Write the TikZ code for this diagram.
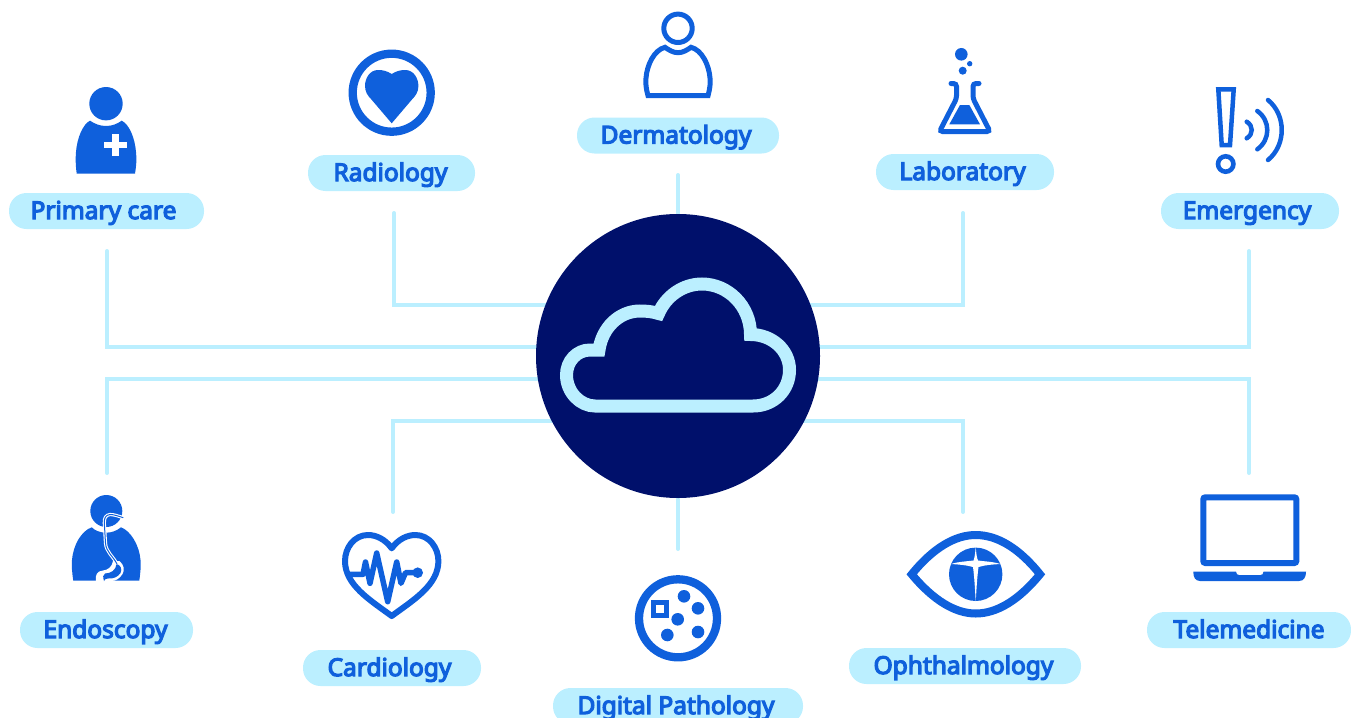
\documentclass[tikz,border=0pt]{standalone}
\usepackage{fontspec}
\setmainfont{Noto Sans}[AutoFakeBold=5]
\usetikzlibrary{calc,backgrounds}
\definecolor{pale}{HTML}{BBEFFF}
\definecolor{iconblue}{HTML}{0F60DC}
\definecolor{navy}{HTML}{00106B}
\tikzset{
  x=1pt,y=-1pt,
  pill/.style={fill=pale,text=iconblue,rounded corners=17.5pt,inner sep=0pt,minimum height=36pt,
    font=\fontsize{24.5}{26}\selectfont\bfseries,text height=19pt,text depth=3pt,align=center},
  link/.style={draw=pale,line width=4pt,line cap=round,line join=miter},
  solid icon/.style={fill=iconblue,draw=none},
  line icon/.style={draw=iconblue,line width=5pt,line join=miter},
  hole/.style={fill=white,draw=none},
}
\begin{document}
\begin{tikzpicture}
\path[use as bounding box,clip] (0,0) rectangle (1351,717);
% hub
\node[circle,fill=navy,minimum size=284pt,inner sep=0pt] (hub) at (678,356) {};
\draw[draw=pale,line width=13pt,line join=miter,miter limit=10]
  (595,406) -- (753,406) .. controls (774,406) and (789.5,390) .. (789.5,370)
  .. controls (789.5,350) and (772,334.5) .. (750.5,334.5)
  .. controls (750.5,306) and (728,284) .. (702,284)
  .. controls (683,284) and (666,296) .. (658.5,313.5)
  .. controls (652,311.5) and (646,311) .. (640,311)
  .. controls (619,311) and (602,328) .. (599,350)
  -- (590,350) .. controls (577,350) and (566.5,361) .. (566.5,375)
  .. controls (566.5,392) and (580,406) .. (595,406) -- cycle;
% labels
\node[pill,minimum width=195pt] (prim) at (106.5,211) {Primary care\kern 6pt};
\node[pill,minimum width=167pt] (radi) at (391.5,173) {Radiology\kern 2pt};
\node[pill,minimum width=202pt] (derm) at (678,135.5) {Dermatology\kern 4pt};
\node[pill,minimum width=178pt] (labo) at (965,172) {Laboratory\kern 5pt};
\node[pill,minimum width=178pt] (emer) at (1250,211) {Emergency\kern 6pt};
\node[pill,minimum width=173pt] (endo) at (106.5,630) {Endoscopy\kern 2pt};
\node[pill,minimum width=178pt] (card) at (392,668) {Cardiology\kern 5pt};
\node[pill,minimum width=250pt] (path) at (678,706) {Digital Pathology\kern 4pt};
\node[pill,minimum width=232pt] (opht) at (965,666) {Ophthalmology\kern 3pt};
\node[pill,minimum width=204pt] (tele) at (1249,630) {Telemedicine};
% connector free ends
\coordinate (cprim) at (107,251);
\coordinate (cradi) at (394,213);
\coordinate (cderm) at (678,175);
\coordinate (clabo) at (963,213);
\coordinate (cemer) at (1249,251);
\coordinate (cendo) at (107,473);
\coordinate (ccard) at (393,512);
\coordinate (cpath) at (678,549);
\coordinate (copht) at (963,512);
\coordinate (ctele) at (1249,473);
\begin{scope}[on background layer]
\draw[link] (cprim) |- ($(hub.center)+(0,-9)$);
\draw[link] (cradi) |- ($(hub.center)+(0,-51.5)$);
\draw[link] (cderm) -- (hub.north);
\draw[link] (clabo) |- ($(hub.center)+(0,-51.5)$);
\draw[link] (cemer) |- ($(hub.center)+(0,-9)$);
\draw[link] (cendo) |- ($(hub.center)+(0,22.5)$);
\draw[link] (ccard) |- ($(hub.center)+(0,65)$);
\draw[link] (cpath) -- (hub.south);
\draw[link] (copht) |- ($(hub.center)+(0,65)$);
\draw[link] (ctele) |- ($(hub.center)+(0,22.5)$);
\end{scope}
% primary care icon
\fill[solid icon] (106,103.7) circle[radius=16.7];
\fill[solid icon] (76.7,173.5) .. controls (75.5,165) and (75.5,158) .. (76,152)
  .. controls (77,138) and (83,124) .. (90,120.7)
  .. controls (95,124) and (100,126) .. (106,126)
  .. controls (112,126) and (117,124) .. (121.7,120.7)
  .. controls (129,124) and (135,138) .. (136,152)
  .. controls (136.7,158) and (136.5,165) .. (135,173.5) -- cycle;
\fill[hole] (112,133.7) rectangle (118.7,156.3);
\fill[hole] (104,141.7) rectangle (126.7,148.3);
% radiology icon
\draw[iconblue,line width=8.3pt] (391.7,92.7) circle[radius=39];
\fill[solid icon] (391.7,74) .. controls (387,71) and (383,70) .. (378,70)
  .. controls (370,70) and (365,78) .. (365,86) .. controls (365,92) and (368,96) .. (371,99)
  -- (391.7,123.3) -- (412.4,99)
  .. controls (415.4,96) and (418.4,92) .. (418.4,86) .. controls (418.4,78) and (413.4,70) .. (405.4,70)
  .. controls (400.4,70) and (396.4,71) .. (391.7,74) -- cycle;
% dermatology icon
\draw[iconblue,line width=5pt] (678,28.3) circle[radius=14.2];
\draw[line icon] (648,95.7) -- (708,95.7) .. controls (710,88) and (710.5,84) .. (710,78)
  .. controls (709,65) and (702,50) .. (691,47.3)
  .. controls (687,50) and (683,52.7) .. (678,52.7)
  .. controls (673,52.7) and (669,50) .. (665,47.3)
  .. controls (654,50) and (647,65) .. (646,78)
  .. controls (645.5,84) and (646,88) .. (648,95.7) -- cycle;
% laboratory icon
\fill[solid icon] (961.3,54.3) circle[radius=6.3];
\fill[solid icon] (969.7,63.7) circle[radius=2.7];
\fill[solid icon] (962.7,70.7) circle[radius=4];
\draw[line icon,line cap=round,rounded corners=3pt] (951,83.5) -- (956.5,83.5) -- (956.5,98.5)
  -- (939.5,131.5) -- (990,131.5) -- (973,98.5) -- (973,83.5) -- (979,83.5);
\fill[solid icon] (960,105) -- (969.3,105) -- (980,124.3) -- (949.3,124.3) -- cycle;
% emergency icon
\draw[line icon,line width=4.5pt] (1218.3,89.3) -- (1233.7,89.3) -- (1230,145) -- (1221.7,145) -- cycle;
\draw[iconblue,line width=4.6pt] (1225.7,164) circle[radius=7.7];
\draw[line icon,line width=4.5pt,line cap=round] (1246.7,121.7) .. controls (1253.4,125.8) and (1253.4,134.2) .. (1246.7,138.3);
\draw[line icon,line width=4.5pt,line cap=round] (1257.3,111) .. controls (1270.6,120.5) and (1270.6,139.8) .. (1257.3,149.3);
\draw[line icon,line width=4.5pt,line cap=round] (1268,100) .. controls (1286.3,115) and (1286.3,145) .. (1268,160);
% endoscopy icon
\fill[solid icon] (106.3,511) circle[radius=16];
\fill[solid icon] (73.3,580.7) .. controls (72,572) and (71.5,566) .. (72,560)
  .. controls (73,546) and (81,531) .. (91.7,527.3)
  .. controls (95,530.5) and (100,532.7) .. (106.3,532.7)
  .. controls (112,532.7) and (117,530.5) .. (121,527.3)
  .. controls (131,531) and (139.5,546) .. (140.5,560)
  .. controls (141,566) and (140.5,572) .. (139.3,580.7) -- cycle;
\fill[hole] (96,581) .. controls (95,575) and (97,571) .. (103,570.5)
  .. controls (108,570) and (112,567) .. (113,561)
  -- (119.5,561) .. controls (124,565) and (125,570) .. (122.5,574)
  .. controls (120,578) and (116,581) .. (112,581) -- cycle;
\fill[solid icon] (104,581) .. controls (103,577) and (102.5,575) .. (105,573.5)
  .. controls (111,573.5) and (116,570) .. (116.5,564)
  .. controls (120.5,565) and (122.5,569) .. (120.5,573)
  .. controls (118,577) and (113,579) .. (108,578.5)
  .. controls (106,578.5) and (105,579) .. (104,581) -- cycle;
\draw[white,line width=3.2pt,line join=round] (123.3,517.7) .. controls (118,516) and (114,514.5) .. (110,514.5)
  .. controls (105.5,515) and (104.2,518) .. (104.3,523) -- (105.5,543)
  .. controls (106,552) and (113,556) .. (117,564);
\draw[iconblue,line width=1pt,line join=round] (123.3,517.7) .. controls (118,516) and (114,514.5) .. (110,514.5)
  .. controls (105.5,515) and (104.2,518) .. (104.3,523) -- (105.5,543)
  .. controls (106,552) and (113,556) .. (117,564);
% cardiology icon
\draw[line icon,line width=6pt,line join=round] (391.7,548.3) .. controls (385,539) and (376,535) .. (368,535)
  .. controls (354,535) and (345,548) .. (345,561)
  .. controls (345,585) and (370,600) .. (391.7,616)
  .. controls (413.4,600) and (438.4,585) .. (438.4,561)
  .. controls (438.4,548) and (429.4,535) .. (415.4,535)
  .. controls (407.4,535) and (398.4,539) .. (391.7,548.3) -- cycle;
\draw[line icon,line width=5.5pt,line join=round,line cap=round] (350,574.3) -- (363,574.3) -- (365.5,562)
  -- (370,583.3) -- (376.7,553) -- (387.7,601.7) -- (396.7,562) -- (401,583.3) -- (405.5,572.7) -- (418.3,572.7);
\fill[solid icon] (417.7,572.7) circle[radius=5.3];
% pathology icon
\draw[iconblue,line width=8.3pt] (678,618.3) circle[radius=39];
\fill[solid icon] (684,596.3) circle[radius=6.3];
\fill[solid icon] (698,608.3) circle[radius=6.3];
\fill[solid icon] (677.7,619.3) circle[radius=6.3];
\fill[solid icon] (698,632) circle[radius=6.3];
\fill[solid icon] (667.3,635) circle[radius=6.3];
\draw[line icon] (653.5,602.5) rectangle (666.5,615.5);
% ophthalmology icon
\draw[line icon,line width=8pt] (911.7,574.3) .. controls (933,548) and (955,535) .. (975.7,535)
  .. controls (997,535) and (1019,548) .. (1040,574.3)
  .. controls (1019,600) and (997,613.5) .. (975.7,613.5)
  .. controls (955,613.5) and (933,600) .. (911.7,574.3) -- cycle;
\fill[solid icon] (975.7,574.3) circle[radius=26.7];
\fill[hole] (975.7,547) .. controls (976.2,553) and (976.8,558) .. (978,560.5)
  .. controls (985,561.5) and (992,561.5) .. (1000.5,564)
  .. controls (992,564.5) and (985,565) .. (978.5,567)
  .. controls (977,578) and (976.5,590) .. (975.7,601)
  .. controls (975,590) and (974.5,578) .. (973,567)
  .. controls (966,565) and (959,564.5) .. (951,564)
  .. controls (959,561.5) and (966,561.5) .. (973.5,560.5)
  .. controls (974.6,558) and (975.2,553) .. (975.7,547) -- cycle;
% telemedicine icon
\draw[line icon,line width=6pt,rounded corners=2pt] (1203.3,497.3) rectangle (1296.3,563);
\fill[solid icon] (1193.3,571.7) -- (1236,571.7) .. controls (1236.5,574) and (1237,575) .. (1239,575)
  -- (1260.5,575) .. controls (1262.5,575) and (1263,574) .. (1263.5,571.7) -- (1306,571.7)
  .. controls (1306,577) and (1304,581) .. (1299,581) -- (1200,581)
  .. controls (1195,581) and (1193.3,577) .. (1193.3,571.7) -- cycle;
\end{tikzpicture}
\end{document}
